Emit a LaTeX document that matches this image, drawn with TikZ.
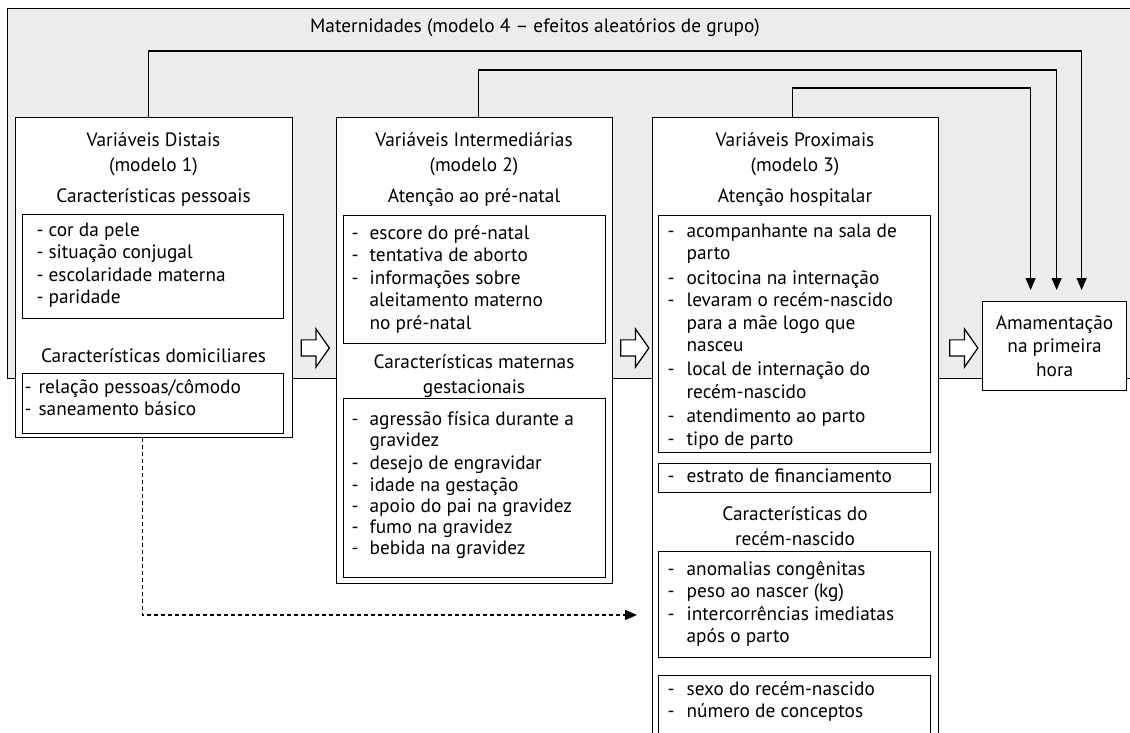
\documentclass[tikz,border=0pt]{standalone}
\usepackage{fontspec}
\setmainfont{PT Sans}
\usepackage{tikz}
\usetikzlibrary{arrows.meta,shapes.arrows,positioning}
\definecolor{cinza}{RGB}{236,236,236}
\newlength{\px}\setlength{\px}{0.02cm}
% one item of a list: dash, then the text (lines split by \\)
\newcommand{\traco}[2][18\px]{\par\noindent\makebox[#1][l]{-}\begin{tabular}[t]{@{}l@{}}#2\end{tabular}\par}
% list content: width, height, top padding, items
\newcommand{\lista}[4]{\parbox[c][#2][t]{#1}{\setlength{\parskip}{0pt}\vspace*{#3}#4}}

\begin{document}
\begin{tikzpicture}[x=0.02cm, y=-0.02cm, line width=0.7pt,
    font=\fontsize{11}{12.8}\selectfont,
    grupo/.style={draw, fill=cinza, anchor=north west, inner sep=0pt},
    caixa/.style={draw, fill=white, anchor=north west, inner sep=0pt},
    listbox/.style={draw, fill=white, anchor=north west, inner ysep=0pt},
    rotulo/.style={align=center, inner sep=0pt, font=\fontsize{11}{14.2}\selectfont},
    bloco/.style={single arrow, draw, fill=white, inner xsep=0pt, inner ysep=7.5\px,
        minimum height=28\px, minimum width=37\px, single arrow head extend=11\px,
        single arrow tip angle=110},
    liga/.style={-{Triangle[length=0.24cm, width=0.2cm]}, shorten >=11\px},
    tracejado/.style={dash pattern=on 0.08cm off 0.06cm, -{Triangle[length=0.24cm, width=0.2cm]}}
]
\useasboundingbox (0,0) rectangle (1130,733);

% Maternidades
\node[grupo, minimum width=1135\px, minimum height=370\px] (mat) at (7,8) {};
\node[rotulo] (matlbl) at (535,28) {Maternidades (modelo 4 – efeitos aleatórios de grupo)};

% Distais
\node[caixa, minimum width=277\px, minimum height=320\px] (distais) at (15,117) {};
\node[rotulo] (distlbl) at (153.5,154) {Variáveis Distais\\(modelo 1)};
\node[rotulo] (pesslbl) at (153.5,197) {Características pessoais};
\node[listbox, inner xsep=14\px] (pess) at (22,214) {\lista{233\px}{104\px}{6\px}{%
    \traco[12\px]{cor da pele}
    \traco[12\px]{situação conjugal}
    \traco[12\px]{escolaridade materna}
    \traco[12\px]{paridade}}};
\node[rotulo] (domlbl) at (153.5,356) {Características domiciliares};
\node[listbox, inner xsep=2\px] (dom) at (22,373) {\lista{257\px}{60\px}{4\px}{%
    \traco[14\px]{relação pessoas/cômodo}
    \traco[14\px]{saneamento básico}}};

% Intermediarias
\node[caixa, minimum width=276\px, minimum height=466\px] (intermed) at (336,117) {};
\node[rotulo] (intlbl) at (474,154) {Variáveis Intermediárias\\(modelo 2)};
\node[rotulo] (prelbl) at (474,198) {Atenção ao pré-natal};
\node[listbox, inner xsep=8\px] (pre) at (343,215) {\lista{246\px}{128\px}{8\px}{%
    \traco{escore do pré-natal}
    \traco{tentativa de aborto}
    \traco{informações sobre\\aleitamento materno\\no pré-natal}}};
\node[rotulo] (gestlbl) at (474,376) {Características maternas\\gestacionais};
\node[listbox, inner xsep=8\px] (gest) at (343,398) {\lista{246\px}{179\px}{12\px}{%
    \fontsize{11}{12.1}\selectfont
    \traco{agressão física durante a\\gravidez}
    \traco{desejo de engravidar}
    \traco{idade na gestação}
    \traco{apoio do pai na gravidez}
    \traco{fumo na gravidez}
    \traco{bebida na gravidez}}};

% Proximais
\node[caixa, minimum width=286\px, minimum height=640\px] (proximais) at (652,117) {};
\node[rotulo] (proxlbl) at (795,154) {Variáveis Proximais\\(modelo 3)};
\node[rotulo] (hosplbl) at (795,198) {Atenção hospitalar};
\node[listbox, inner xsep=9\px] (hosp) at (658,215) {\lista{254\px}{237\px}{6\px}{%
    \traco[19\px]{acompanhante na sala de\\parto}
    \traco[19\px]{ocitocina na internação}
    \traco[19\px]{levaram o recém-nascido\\para a mãe logo que\\nasceu}
    \traco[19\px]{local de internação do\\recém-nascido}
    \traco[19\px]{atendimento ao parto}
    \traco[19\px]{tipo de parto}}};
\node[listbox, inner xsep=9\px] (estrato) at (658,463) {\lista{254\px}{29\px}{3\px}{%
    \traco[19\px]{estrato de financiamento}}};
\node[rotulo] (rnlbl) at (795,526) {Características do\\recém-nascido};
\node[listbox, inner xsep=9\px] (rn) at (658,551) {\lista{254\px}{106\px}{8\px}{%
    \traco[19\px]{anomalias congênitas}
    \traco[19\px]{peso ao nascer (kg)}
    \traco[19\px]{intercorrências imediatas\\após o parto}}};
\node[listbox, inner xsep=9\px] (sexo) at (658,675) {\lista{254\px}{85\px}{4\px}{%
    \traco[19\px]{sexo do recém-nascido}
    \traco[19\px]{número de conceptos}}};

% Desfecho
\node[caixa, minimum width=144\px, minimum height=89\px, align=center,
    font=\fontsize{11}{13.4}\selectfont] (amam) at (982,301) {Amamentação\\na primeira\\hora};

% Setas largas
\node[bloco] (seta1) at (312.5,348) {};
\node[bloco] (seta2) at (632,348) {};
\node[bloco] (seta3) at (961,348) {};

% Ligacoes ao desfecho
\draw[liga] ([xshift=-6\px]distais.north) -- ++(0,-66) -| ([xshift=27\px]amam.north);
\draw[liga] ([xshift=4\px]intermed.north) -- ++(0,-47) -| ([xshift=2\px]amam.north);
\draw[liga] ([xshift=-3\px]proximais.north) -- ++(0,-29) -| ([xshift=-24\px]amam.north);

% Distais -> recem-nascido
\coordinate (fimtrac) at (637,615);
\draw[tracejado] ([xshift=-12\px]distais.south) |- (fimtrac);

\end{tikzpicture}
\end{document}
